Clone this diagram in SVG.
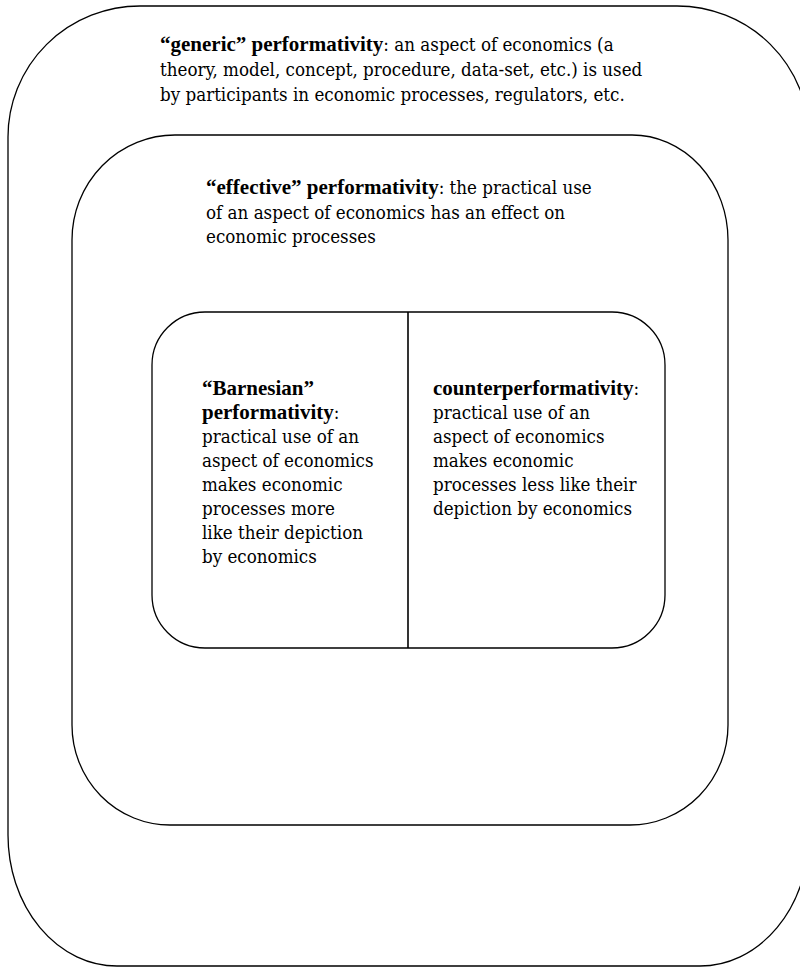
<svg xmlns="http://www.w3.org/2000/svg" width="800" height="967" viewBox="0 0 800 967">
<style>
.box{fill:none;stroke:#000;stroke-width:1.3}
.div{stroke:#000;stroke-width:1.6}
.t{font-family:"DejaVu Serif Condensed","DejaVu Serif","Liberation Serif",serif;font-size:18.6px;font-weight:400;fill:#000}
.b{font-family:"Liberation Serif","Times New Roman",serif;font-size:21px;font-weight:bold}
</style>
<rect width="800" height="967" fill="#fff"/>
<g id="generic">
<path class="box" d="M8,137 A132,131 0 0 1 140,6 L677,6 A132,131 0 0 1 809,137 L809,835 A109,131 0 0 1 700,966 L117,966 A109,131 0 0 1 8,835 Z"/>
<text class="t" x="160" y="51"><tspan class="b">“generic” performativity</tspan>: an aspect of economics (a</text>
<text class="t" x="160" y="76">theory, model, concept, procedure, data-set, etc.) is used</text>
<text class="t" x="160" y="101">by participants in economic processes, regulators, etc.</text>
</g>
<g id="effective">
<path class="box" d="M72,240 A103,105 0 0 1 175,135 L632,135 A96,105 0 0 1 728,240 L728,725 A98,100 0 0 1 630,825 L170,825 A98,100 0 0 1 72,725 Z"/>
<text class="t" x="206" y="194"><tspan class="b">“effective” performativity</tspan>: the practical use</text>
<text class="t" x="206" y="219">of an aspect of economics has an effect on</text>
<text class="t" x="206" y="243">economic processes</text>
</g>
<g id="inner">
<rect class="box" x="152" y="312" width="513" height="336" rx="53" ry="53"/>
</g>
<g id="connectors">
<line class="div" x1="408" y1="312" x2="408" y2="648"/>
</g>
<g id="barnesian">
<text class="t" x="202" y="395"><tspan class="b">“Barnesian”</tspan></text>
<text class="t" x="202" y="419"><tspan class="b">performativity</tspan>:</text>
<text class="t" x="202" y="443">practical use of an</text>
<text class="t" x="202" y="467">aspect of economics</text>
<text class="t" x="202" y="491">makes economic</text>
<text class="t" x="202" y="515">processes more</text>
<text class="t" x="202" y="539">like their depiction</text>
<text class="t" x="202" y="563">by economics</text>
</g>
<g id="counter">
<text class="t" x="433" y="395"><tspan class="b">counterperformativity</tspan>:</text>
<text class="t" x="433" y="419">practical use of an</text>
<text class="t" x="433" y="443">aspect of economics</text>
<text class="t" x="433" y="467">makes economic</text>
<text class="t" x="433" y="491">processes less like their</text>
<text class="t" x="433" y="515">depiction by economics</text>
</g>
</svg>
